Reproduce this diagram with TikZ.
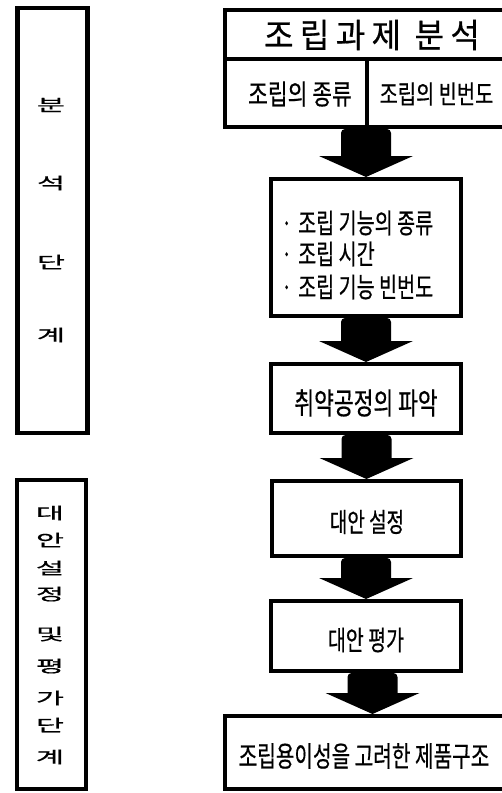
\documentclass[tikz,border=0pt]{standalone}
\usepackage{fontspec}
\setmainfont{Noto Sans CJK KR}[FakeBold=0.6]
\usetikzlibrary{calc}
\tikzset{
  box/.style={draw=black, line width=4pt, rectangle, inner sep=0pt},
  sidebox/.style={draw=black, line width=4.5pt, rectangle, inner sep=0pt},
  vchar/.style={inner sep=0pt, font=\fontsize{21pt}{21pt}\selectfont},
  txt/.style={inner sep=0pt},
}
\newcommand{\sqz}[1]{\scalebox{1.45}[0.78]{#1}}
\newcommand{\tall}[1]{\scalebox{1}[1.4]{#1}}
\newcommand{\cell}[1]{\scalebox{1}[1.3]{#1}}
\newcommand{\blkarrow}[2]{%
  \fill[black] let \p1=(#2.north |- #1.south) in
    [rounded corners=4pt] (\x1-25pt,\y1) rectangle ($(#2.north)+(25,-17)$);
  \fill[black] let \p1=(#2.north) in
    (\x1-47pt,\y1+21pt) -- (\x1+47pt,\y1+21pt) -- (\x1,\y1) -- cycle;}
\begin{document}
\begin{tikzpicture}[x=1pt,y=-1pt]
\useasboundingbox (0,0) rectangle (502,793);
\clip (0,0) rectangle (502,793);
% left boxes
\node[sidebox, minimum width=70pt, minimum height=425pt] (s1) at (52.5,220.5) {};
\node[sidebox, minimum width=69pt, minimum height=309pt] (s2) at (51.5,634.5) {};
\node[vchar] (c1) at (51,105) {\sqz{분}};
\node[vchar] (c2) at (51,183) {\sqz{석}};
\node[vchar] (c3) at (51,262) {\sqz{단}};
\node[vchar] (c4) at (51,335) {\sqz{계}};
\node[vchar] (d1) at (50,513) {\sqz{대}};
\node[vchar] (d2) at (50,540) {\sqz{안}};
\node[vchar] (d3) at (50,568) {\sqz{설}};
\node[vchar] (d4) at (50,594) {\sqz{정}};
\node[vchar] (d5) at (50,634) {\sqz{및}};
\node[vchar] (d6) at (50,666) {\sqz{평}};
\node[vchar] (d7) at (50,698) {\sqz{가}};
\node[vchar] (d8) at (50,725) {\sqz{단}};
\node[vchar] (d9) at (50,757) {\sqz{계}};
% top box
\node[box, minimum width=295pt, minimum height=49pt] (top) at (372.5,34.5) {};
\node[box, minimum width=142pt, minimum height=68pt] (ca) at (296,93) {};
\node[box, minimum width=153pt, minimum height=68pt] (cb) at (443.5,93) {};
\node[txt, font=\fontsize{32pt}{32pt}\selectfont\addfontfeatures{LetterSpace=20}] (tt) at (372,35) {\scalebox{1}[1.05]{조립과제 분석}};
\node[txt, font=\fontsize{21.5pt}{21.5pt}\selectfont] (ta) at (300,94) {\cell{조립의 종류}};
\node[txt, font=\fontsize{19.8pt}{19.8pt}\selectfont] (tb) at (436.5,94) {\cell{조립의 빈번도}};
% process boxes
\node[box, minimum width=190pt, minimum height=137pt] (b2) at (366,247.5) {};
\node[txt, anchor=west, font=\fontsize{19.6pt}{19.6pt}\selectfont] (t2a) at (281,223) {\tall{·\hspace{6pt}조립 기능의 종류}};
\node[txt, anchor=west, font=\fontsize{19.6pt}{19.6pt}\selectfont] (t2b) at (281,254) {\tall{·\hspace{6pt}조립 시간}};
\node[txt, anchor=west, font=\fontsize{19.6pt}{19.6pt}\selectfont] (t2c) at (281,287) {\tall{·\hspace{6pt}조립 기능 빈번도}};
\node[box, minimum width=190pt, minimum height=69pt] (b3) at (366,398.5) {};
\node[txt, font=\fontsize{21.5pt}{21.5pt}\selectfont] (t3) at (366,403) {\tall{취약공정의 파악}};
\node[box, minimum width=189pt, minimum height=75pt] (b4) at (366.5,518.5) {};
\node[txt, font=\fontsize{19pt}{19pt}\selectfont] (t4) at (367,522) {\tall{대안 설정}};
\node[box, minimum width=190pt, minimum height=70pt] (b5) at (366,636) {};
\node[txt, font=\fontsize{19.5pt}{19.5pt}\selectfont] (t5) at (366,640) {\tall{대안 평가}};
\node[box, minimum width=295pt, minimum height=73pt] (b6) at (372.5,752.5) {};
\node[txt, font=\fontsize{20.2pt}{20.2pt}\selectfont] (t6) at (364,756) {\tall{조립용이성을 고려한 제품구조}};
% block arrows
\blkarrow{ca}{b2}
\blkarrow{b2}{b3}
\blkarrow{b3}{b4}
\blkarrow{b4}{b5}
\blkarrow{b5}{b6}
\end{tikzpicture}
\end{document}
